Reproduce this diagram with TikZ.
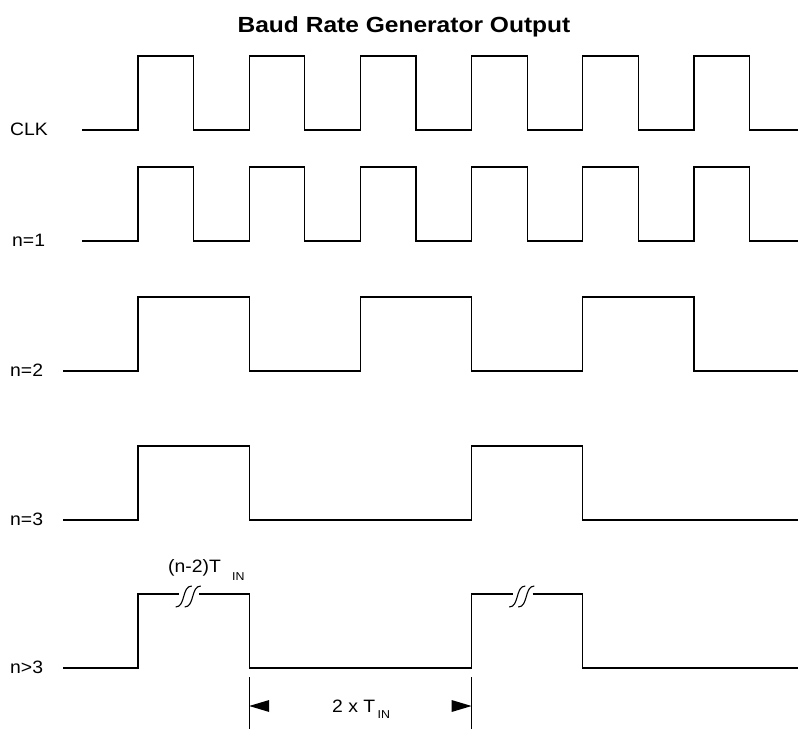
\documentclass[tikz,border=0pt]{standalone}
\usepackage{fontspec}
\setmainfont{Liberation Sans}
\begin{document}
\begin{tikzpicture}[x=1bp,y=-1bp,
  sig/.style={line width=1.2bp, line join=miter},
  dimline/.style={line width=1bp},
  lbl/.style={inner sep=0pt, anchor=base west, font=\fontsize{18}{20}\selectfont},
  sub/.style={inner sep=0pt, anchor=base west, font=\fontsize{11.5}{13}\selectfont},
  ttl/.style={inner sep=0pt, anchor=base, font=\bfseries\fontsize{22}{24}\selectfont}]
\useasboundingbox (0,0) rectangle (798,729);
\def\H{55.6}
% title
\node[ttl] (title) at (404,32.3) {\scalebox{1.12}[1]{Baud Rate Generator Output}};
% labels
\node[lbl] (lclk) at (10,136) {\scalebox{1.08}[1]{CLK}};
\node[lbl] (ln1) at (12,246) {\scalebox{1.08}[1]{n=1}};
\node[lbl] (ln2) at (10,376.7) {\scalebox{1.08}[1]{n=2}};
\node[lbl] (ln3) at (10,525.5) {\scalebox{1.08}[1]{n=3}};
\node[lbl] (ln4) at (10,673.3) {\scalebox{1.08}[1]{n>3}};
% CLK
\draw[sig] (82,130) foreach \k in {0,2,...,10} { -- ({138+\H*\k},130) -- ({138+\H*\k},56) -- ({138+\H*(\k+1)},56) -- ({138+\H*(\k+1)},130) } -- (798,130);
% n=1
\draw[sig] (82,241) foreach \k in {0,2,...,10} { -- ({138+\H*\k},241) -- ({138+\H*\k},167) -- ({138+\H*(\k+1)},167) -- ({138+\H*(\k+1)},241) } -- (798,241);
% n=2
\draw[sig] (63,371) foreach \k in {0,4,8} { -- ({138+\H*\k},371) -- ({138+\H*\k},297) -- ({138+\H*(\k+2)},297) -- ({138+\H*(\k+2)},371) } -- (798,371);
% n=3
\draw[sig] (63,520) foreach \k in {0,6} { -- ({138+\H*\k},520) -- ({138+\H*\k},446) -- ({138+\H*(\k+2)},446) -- ({138+\H*(\k+2)},520) } -- (798,520);
% n>3
\draw[sig] (63,668) foreach \k in {0,6} { -- ({138+\H*\k},668) -- ({138+\H*\k},594) -- ({138+\H*\k+41},594)
   ({138+\H*\k+61},594) -- ({138+\H*(\k+2)},594) -- ({138+\H*(\k+2)},668) -- ({138+\H*(\k+6)},668) };
\draw[sig] ({138+\H*8},668) -- (798,668);
% break symbols
\foreach \k in {0,6} {
  \foreach \d in {0,9} {
    \draw[line width=1.1bp] ({138+\H*\k+37.7+\d},607) .. controls ({138+\H*\k+47.7+\d},607) and ({138+\H*\k+43.7+\d},586) .. ({138+\H*\k+53.7+\d},586);
  }
}
% (n-2)T_IN label
\node[lbl] (tlbl) at (168,572) {\scalebox{1.08}[1]{(n-2)T}};
\node[sub] (tsub) at (232,580) {\scalebox{1.08}[1]{IN}};
% dimension
\coordinate (dla) at ({138+\H*2},677);
\coordinate (dlb) at ({138+\H*2},729);
\coordinate (dra) at ({138+\H*6},677);
\coordinate (drb) at ({138+\H*6},729);
\draw[dimline] (dla) -- (dlb);
\draw[dimline] (dra) -- (drb);
\coordinate (ltip) at ({138+\H*2},706);
\coordinate (rtip) at ({138+\H*6},706);
\fill (ltip) -- ++(20,-6) -- ++(0,12) -- cycle;
\fill (rtip) -- ++(-20,-6) -- ++(0,12) -- cycle;
\node[lbl] (dlbl) at (332,712.7) {\scalebox{1.08}[1]{2 x T}};
\node[sub] (dsub) at (377.5,718) {\scalebox{1.08}[1]{IN}};
\end{tikzpicture}
\end{document}
